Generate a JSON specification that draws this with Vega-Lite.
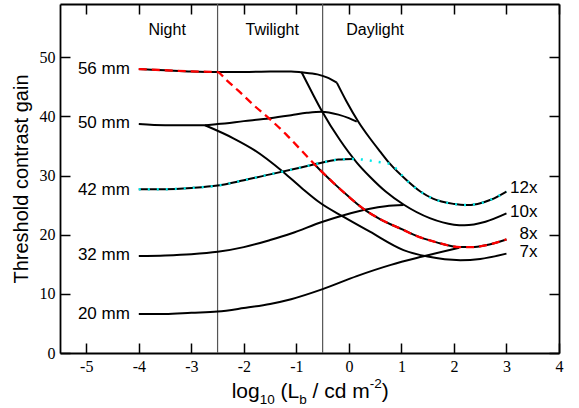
{
  "$schema": "https://vega.github.io/schema/vega-lite/v6.json",
  "width": 499,
  "height": 349,
  "autosize": {"type": "none"},
  "padding": {"left": 60, "top": 4, "right": 20, "bottom": 55},
  "background": "white",
  "config": {"view": {"stroke": null}, "text": {"font": "Liberation Sans", "color": "black"}},
  "datasets": {
    "black": [
      {"s": "56 mm", "x": -4, "y": 48.0}, {"s": "56 mm", "x": -3.5, "y": 47.8}, {"s": "56 mm", "x": -3, "y": 47.6}, {"s": "56 mm", "x": -2.5, "y": 47.5}, {"s": "56 mm", "x": -2, "y": 47.5}, {"s": "56 mm", "x": -1.5, "y": 47.6}, {"s": "56 mm", "x": -1.1, "y": 47.6}, {"s": "56 mm", "x": -0.9, "y": 47.45}, {"s": "56 mm", "x": -0.6, "y": 47.1}, {"s": "56 mm", "x": -0.42, "y": 46.6}, {"s": "56 mm", "x": -0.23, "y": 45.7},
      {"s": "50 mm", "x": -4, "y": 38.7}, {"s": "50 mm", "x": -3.5, "y": 38.5}, {"s": "50 mm", "x": -3, "y": 38.5}, {"s": "50 mm", "x": -2.74, "y": 38.5}, {"s": "50 mm", "x": -2.5, "y": 38.7}, {"s": "50 mm", "x": -2, "y": 39.2}, {"s": "50 mm", "x": -1.5, "y": 39.7}, {"s": "50 mm", "x": -1.1, "y": 40.2}, {"s": "50 mm", "x": -0.8, "y": 40.6}, {"s": "50 mm", "x": -0.52, "y": 40.8}, {"s": "50 mm", "x": -0.2, "y": 40.3}, {"s": "50 mm", "x": 0, "y": 39.7}, {"s": "50 mm", "x": 0.15, "y": 39.1},
      {"s": "42 mm", "x": -4, "y": 27.7}, {"s": "42 mm", "x": -3.5, "y": 27.7}, {"s": "42 mm", "x": -3, "y": 27.9}, {"s": "42 mm", "x": -2.5, "y": 28.3}, {"s": "42 mm", "x": -2, "y": 29.2}, {"s": "42 mm", "x": -1.5, "y": 30.2}, {"s": "42 mm", "x": -1, "y": 31.2}, {"s": "42 mm", "x": -0.5, "y": 32.2}, {"s": "42 mm", "x": -0.2, "y": 32.7}, {"s": "42 mm", "x": 0.08, "y": 32.8},
      {"s": "32 mm", "x": -4, "y": 16.4}, {"s": "32 mm", "x": -3.5, "y": 16.5}, {"s": "32 mm", "x": -3, "y": 16.7}, {"s": "32 mm", "x": -2.5, "y": 17.1}, {"s": "32 mm", "x": -2, "y": 17.9}, {"s": "32 mm", "x": -1.5, "y": 19.1}, {"s": "32 mm", "x": -1.1, "y": 20.2}, {"s": "32 mm", "x": -0.5, "y": 22.2}, {"s": "32 mm", "x": -0.1, "y": 23.3}, {"s": "32 mm", "x": 0.4, "y": 24.4}, {"s": "32 mm", "x": 0.7, "y": 24.8}, {"s": "32 mm", "x": 1.04, "y": 25.0},
      {"s": "20 mm", "x": -4, "y": 6.6}, {"s": "20 mm", "x": -3.5, "y": 6.6}, {"s": "20 mm", "x": -3, "y": 6.8}, {"s": "20 mm", "x": -2.5, "y": 7.0}, {"s": "20 mm", "x": -2, "y": 7.6}, {"s": "20 mm", "x": -1.5, "y": 8.3}, {"s": "20 mm", "x": -1.1, "y": 9.1}, {"s": "20 mm", "x": -0.5, "y": 10.8}, {"s": "20 mm", "x": 0.15, "y": 13.0}, {"s": "20 mm", "x": 0.8, "y": 14.9}, {"s": "20 mm", "x": 1.4, "y": 16.3}, {"s": "20 mm", "x": 2.1, "y": 17.8},
      {"s": "12x", "x": -0.23, "y": 45.7}, {"s": "12x", "x": -0.05, "y": 42.6}, {"s": "12x", "x": 0.18, "y": 39.1}, {"s": "12x", "x": 0.4, "y": 36.3}, {"s": "12x", "x": 0.6, "y": 34.0}, {"s": "12x", "x": 0.78, "y": 32.0}, {"s": "12x", "x": 1.1, "y": 29.2}, {"s": "12x", "x": 1.36, "y": 27.3}, {"s": "12x", "x": 1.6, "y": 26.1}, {"s": "12x", "x": 2.0, "y": 25.2}, {"s": "12x", "x": 2.2, "y": 25.0}, {"s": "12x", "x": 2.45, "y": 25.2}, {"s": "12x", "x": 2.7, "y": 25.9}, {"s": "12x", "x": 3.0, "y": 27.3},
      {"s": "10x", "x": -0.9, "y": 47.45}, {"s": "10x", "x": -0.7, "y": 44.0}, {"s": "10x", "x": -0.52, "y": 41.0}, {"s": "10x", "x": -0.17, "y": 36.0}, {"s": "10x", "x": 0.15, "y": 32.2}, {"s": "10x", "x": 0.4, "y": 29.8}, {"s": "10x", "x": 0.7, "y": 27.3}, {"s": "10x", "x": 1.04, "y": 25.1}, {"s": "10x", "x": 1.54, "y": 22.8}, {"s": "10x", "x": 2.0, "y": 21.7}, {"s": "10x", "x": 2.2, "y": 21.6}, {"s": "10x", "x": 2.6, "y": 22.2}, {"s": "10x", "x": 3.0, "y": 23.6},
      {"s": "8x", "x": -0.68, "y": 32.1}, {"s": "8x", "x": -0.6, "y": 31.4}, {"s": "8x", "x": -0.3, "y": 28.8}, {"s": "8x", "x": 0, "y": 26.4}, {"s": "8x", "x": 0.27, "y": 24.4}, {"s": "8x", "x": 0.6, "y": 22.6}, {"s": "8x", "x": 1.04, "y": 20.8}, {"s": "8x", "x": 1.23, "y": 20.0}, {"s": "8x", "x": 1.67, "y": 18.7}, {"s": "8x", "x": 2.12, "y": 17.9}, {"s": "8x", "x": 2.35, "y": 17.9}, {"s": "8x", "x": 2.6, "y": 18.2}, {"s": "8x", "x": 3.0, "y": 19.2},
      {"s": "7x", "x": -2.74, "y": 38.5}, {"s": "7x", "x": -2.2, "y": 36.3}, {"s": "7x", "x": -1.8, "y": 34.3}, {"s": "7x", "x": -1.25, "y": 30.6}, {"s": "7x", "x": -0.9, "y": 27.9}, {"s": "7x", "x": -0.55, "y": 25.4}, {"s": "7x", "x": -0.1, "y": 23.0}, {"s": "7x", "x": 0.4, "y": 20.5}, {"s": "7x", "x": 1.04, "y": 17.4}, {"s": "7x", "x": 1.5, "y": 16.3}, {"s": "7x", "x": 2.12, "y": 15.7}, {"s": "7x", "x": 2.5, "y": 15.9}, {"s": "7x", "x": 3.0, "y": 16.8}
    ],
    "red": [
      {"x": -4, "y": 48.0}, {"x": -3.5, "y": 47.8}, {"x": -3, "y": 47.6}, {"x": -2.5, "y": 47.5}, {"x": -2.35, "y": 46.3}, {"x": -2.1, "y": 44.3}, {"x": -1.8, "y": 41.8}, {"x": -1.5, "y": 39.5}, {"x": -1.2, "y": 37.0}, {"x": -0.9, "y": 34.2}, {"x": -0.6, "y": 31.4}, {"x": -0.3, "y": 28.8}, {"x": 0, "y": 26.4}, {"x": 0.27, "y": 24.4}, {"x": 0.6, "y": 22.6}, {"x": 1.04, "y": 20.8}, {"x": 1.23, "y": 20.0}, {"x": 1.67, "y": 18.7}, {"x": 2.12, "y": 17.9}, {"x": 2.35, "y": 17.9}, {"x": 2.6, "y": 18.2}, {"x": 3.0, "y": 19.2}
    ],
    "cyan": [
      {"x": -4, "y": 27.7}, {"x": -3.5, "y": 27.7}, {"x": -3, "y": 27.9}, {"x": -2.5, "y": 28.3}, {"x": -2, "y": 29.2}, {"x": -1.5, "y": 30.2}, {"x": -1, "y": 31.2}, {"x": -0.5, "y": 32.2}, {"x": -0.2, "y": 32.7}, {"x": 0.08, "y": 32.8}, {"x": 0.35, "y": 32.6}, {"x": 0.55, "y": 32.3}, {"x": 0.77, "y": 32.0}, {"x": 1.1, "y": 29.2}, {"x": 1.36, "y": 27.3}, {"x": 1.6, "y": 26.1}, {"x": 2.0, "y": 25.2}, {"x": 2.2, "y": 25.0}, {"x": 2.45, "y": 25.2}, {"x": 2.7, "y": 25.9}, {"x": 3.0, "y": 27.3}
    ],
    "zones": [{"x": -2.5}, {"x": -0.5}],
    "mm": [
      {"label": "56 mm", "x": -4.17, "y": 48.0}, {"label": "50 mm", "x": -4.17, "y": 38.8}, {"label": "42 mm", "x": -4.17, "y": 27.6}, {"label": "32 mm", "x": -4.17, "y": 16.5}, {"label": "20 mm", "x": -4.17, "y": 6.55}
    ],
    "mag": [
      {"label": "12x", "x": 3.59, "y": 27.9}, {"label": "10x", "x": 3.59, "y": 23.8}, {"label": "8x", "x": 3.59, "y": 20.05}, {"label": "7x", "x": 3.59, "y": 17.1}
    ],
    "regions": [
      {"label": "Night", "x": -3.46, "y": 53.7}, {"label": "Twilight", "x": -1.46, "y": 53.7}, {"label": "Daylight", "x": 0.5, "y": 53.7}
    ],
    "titleMain": [
      {"t": "log", "x": -2.231, "y": -7.55}, {"t": "(L", "x": -1.302, "y": -7.55}, {"t": "/ cd m", "x": -0.693, "y": -7.55}, {"t": ")", "x": 0.624, "y": -7.55}
    ],
    "titleSub": [
      {"t": "10", "x": -1.698, "y": -8.6}, {"t": "b", "x": -0.946, "y": -8.6}, {"t": "-2", "x": 0.396, "y": -5.9}
    ]
  },
  "layer": [
    {
      "data": {"name": "zones"},
      "mark": {"type": "rule", "color": "#555555", "strokeWidth": 1.2},
      "encoding": {
        "x": {"field": "x", "type": "quantitative", "scale": {"domain": [-5.5, 4], "nice": false, "zero": false}, "axis": null}
      }
    },
    {
      "data": {"name": "black"},
      "mark": {"type": "line", "color": "black", "strokeWidth": 2, "interpolate": "monotone"},
      "encoding": {
        "x": {"field": "x", "type": "quantitative", "scale": {"domain": [-5.5, 4], "nice": false, "zero": false},
          "axis": {"orient": "bottom", "values": [-5, -4, -3, -2, -1, 0, 1, 2, 3, 4], "labelExpr": "'' + datum.value", "labelFont": "Liberation Serif", "labelFontSize": 16, "labelColor": "black", "tickSize": -10, "tickColor": "black", "tickWidth": 1.5, "domainColor": "black", "domainWidth": 1.8, "labelPadding": 15, "grid": false, "title": null, "labelFlush": false, "labelOverlap": false}},
        "y": {"field": "y", "type": "quantitative", "scale": {"domain": [0, 59], "nice": false, "zero": false},
          "axis": {"orient": "left", "values": [0, 10, 20, 30, 40, 50], "labelFont": "Liberation Serif", "labelFontSize": 16, "labelColor": "black", "tickSize": -10, "tickColor": "black", "tickWidth": 1.5, "domainColor": "black", "domainWidth": 1.8, "labelPadding": 15, "grid": false, "title": "Threshold contrast gain", "titleFont": "Liberation Sans", "titleFontSize": 20, "titleFontWeight": "normal", "titleColor": "black", "titlePadding": 8, "labelFlush": false, "labelOverlap": false}},
        "detail": {"field": "s", "type": "nominal"}
      }
    },
    {
      "data": {"name": "red"},
      "mark": {"type": "line", "color": "#ff0000", "strokeWidth": 2.3, "strokeDash": [8, 5], "interpolate": "monotone"},
      "encoding": {
        "x": {"field": "x", "type": "quantitative", "scale": {"domain": [-5.5, 4], "nice": false, "zero": false},
          "axis": {"orient": "top", "values": [-5, -4, -3, -2, -1, 0, 1, 2, 3, 4], "labels": false, "tickSize": -10, "tickColor": "black", "tickWidth": 1.5, "domainColor": "black", "domainWidth": 1.8, "grid": false, "title": null}},
        "y": {"field": "y", "type": "quantitative", "scale": {"domain": [0, 59], "nice": false, "zero": false},
          "axis": {"orient": "right", "values": [0, 10, 20, 30, 40, 50], "labels": false, "tickSize": -10, "tickColor": "black", "tickWidth": 1.5, "domainColor": "black", "domainWidth": 1.8, "grid": false, "title": null}}
      }
    },
    {
      "data": {"name": "cyan"},
      "mark": {"type": "line", "color": "#00e8e8", "strokeWidth": 2.5, "strokeDash": [2, 7], "interpolate": "monotone"},
      "encoding": {
        "x": {"field": "x", "type": "quantitative", "axis": null},
        "y": {"field": "y", "type": "quantitative", "axis": null}
      }
    },
    {
      "data": {"name": "mm"},
      "mark": {"type": "text", "align": "right", "baseline": "middle", "fontSize": 17},
      "encoding": {
        "x": {"field": "x", "type": "quantitative", "axis": null},
        "y": {"field": "y", "type": "quantitative", "axis": null},
        "text": {"field": "label"}
      }
    },
    {
      "data": {"name": "mag"},
      "mark": {"type": "text", "align": "right", "baseline": "middle", "fontSize": 17},
      "encoding": {
        "x": {"field": "x", "type": "quantitative", "axis": null},
        "y": {"field": "y", "type": "quantitative", "axis": null},
        "text": {"field": "label"}
      }
    },
    {
      "data": {"name": "regions"},
      "mark": {"type": "text", "align": "center", "baseline": "alphabetic", "fontSize": 16},
      "encoding": {
        "x": {"field": "x", "type": "quantitative", "axis": null},
        "y": {"field": "y", "type": "quantitative", "axis": null},
        "text": {"field": "label"}
      }
    },
    {
      "data": {"name": "titleMain"},
      "mark": {"type": "text", "align": "left", "baseline": "alphabetic", "fontSize": 21},
      "encoding": {
        "x": {"field": "x", "type": "quantitative", "axis": null},
        "y": {"field": "y", "type": "quantitative", "axis": null},
        "text": {"field": "t"}
      }
    },
    {
      "data": {"name": "titleSub"},
      "mark": {"type": "text", "align": "left", "baseline": "alphabetic", "fontSize": 13.5},
      "encoding": {
        "x": {"field": "x", "type": "quantitative", "axis": null},
        "y": {"field": "y", "type": "quantitative", "axis": null},
        "text": {"field": "t"}
      }
    }
  ],
  "resolve": {"axis": {"x": "independent", "y": "independent"}}
}
